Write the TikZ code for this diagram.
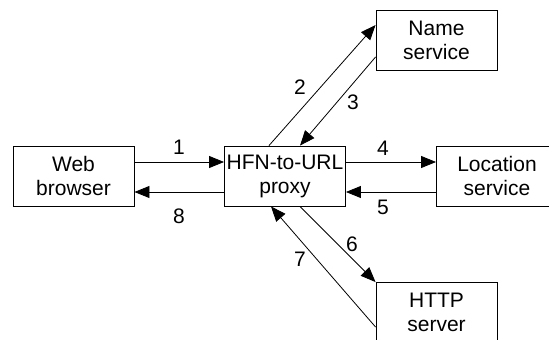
\documentclass[tikz,border=0pt]{standalone}
\usepackage{fontspec}
\setmainfont{Liberation Sans}
\usetikzlibrary{arrows.meta}
\begin{document}
\begin{tikzpicture}[x=1pt,y=-1pt,
  box/.style={draw,line width=0.9pt,minimum width=121pt,minimum height=60pt,inner sep=0pt,align=center,font=\fontsize{21}{24}\selectfont},
  conn/.style={line width=0.8pt,-{Triangle[length=15pt,width=12pt]}},
  lbl/.style={font=\fontsize{21}{24}\selectfont,inner sep=0pt}]
\useasboundingbox (0,0) rectangle (549,340);
\node[box] (web) at (73.5,176) {Web\\browser};
\node[box] (proxy) at (285,176) {HFN-to-URL\\proxy};
\node[box] (name) at (436.5,40.5) {Name\\service};
\node[box] (loc) at (497,176) {Location\\service};
\node[box] (http) at (436.5,312.5) {HTTP\\server};
\draw[conn] ([yshift=14pt]web.east) -- ([yshift=14pt]proxy.west);
\draw[conn] ([yshift=-16pt]proxy.west) -- ([yshift=-16pt]web.east);
\draw[conn] ([yshift=14pt]proxy.east) -- ([yshift=14pt]loc.west);
\draw[conn] ([yshift=-16pt]loc.west) -- ([yshift=-16pt]proxy.east);
\draw[conn] ([xshift=-16pt]proxy.north) -- ([yshift=15.5pt]name.west);
\draw[conn] ([yshift=-16.5pt]name.west) -- ([xshift=15pt]proxy.north);
\draw[conn] ([xshift=15pt]proxy.south) -- (http.north west);
\draw[conn] ([yshift=-14.5pt]http.west) -- ([xshift=-14pt]proxy.south);
\node[lbl] (l1) at (179,147) {1};
\node[lbl] (l8) at (179,216) {8};
\node[lbl] (l4) at (383,148) {4};
\node[lbl] (l5) at (383,207) {5};
\node[lbl] (l2) at (300,87) {2};
\node[lbl] (l3) at (353,102) {3};
\node[lbl] (l6) at (352,244) {6};
\node[lbl] (l7) at (300,259) {7};
\end{tikzpicture}
\end{document}
